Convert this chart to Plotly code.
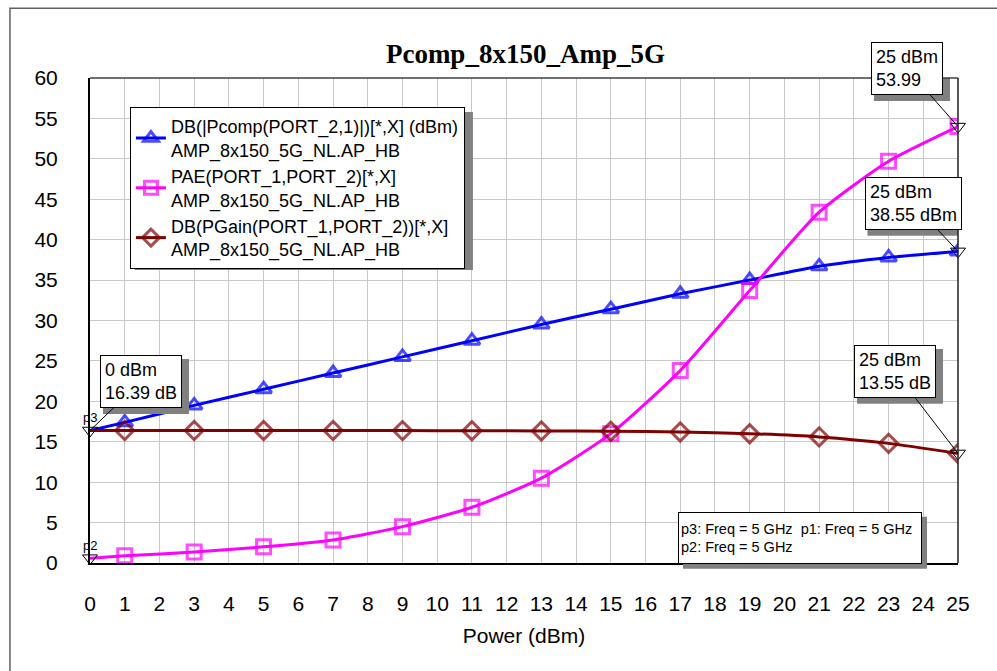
import plotly.graph_objects as go

# Swept input power (dBm); markers are drawn on the odd steps
power = [0, 1, 3, 5, 7, 9, 11, 13, 15, 17, 19, 21, 23, 25]

# Output power, DB(|Pcomp(PORT_2,1)|) in dBm
pcomp = [16.39, 17.4, 19.5, 21.5, 23.5, 25.5, 27.5, 29.5, 31.4, 33.3, 35.0, 36.7, 37.8, 38.55]
# Power added efficiency, PAE(PORT_1,PORT_2) in %
pae = [0.6, 0.9, 1.35, 2.0, 2.85, 4.5, 6.9, 10.5, 16.0, 23.8, 33.7, 43.4, 49.7, 53.99]
# Power gain, DB(PGain(PORT_1,PORT_2)) in dB
gain = [16.39, 16.39, 16.39, 16.39, 16.39, 16.38, 16.37, 16.34, 16.3, 16.2, 16.0, 15.6, 14.8, 13.55]

x_ticks = list(range(0, 26))
y_ticks = list(range(0, 61, 5))

FONT = "Liberation Sans, Arial, sans-serif"
SHADOW = "#808080"

series = [
    ("DB(|Pcomp(PORT_2,1)|)[*,X] (dBm)<br>AMP_8x150_5G_NL.AP_HB", pcomp, "#0000FF", "triangle-up-open"),
    ("PAE(PORT_1,PORT_2)[*,X]<br>AMP_8x150_5G_NL.AP_HB", pae, "#FF00FF", "square-open"),
    ("DB(PGain(PORT_1,PORT_2))[*,X]<br>AMP_8x150_5G_NL.AP_HB", gain, "#800000", "diamond-open"),
]

fig = go.Figure()
for i, (name, vals, color, sym) in enumerate(series):
    sizes = [0] + [14] * (len(power) - 1)
    fig.add_trace(go.Scatter(
        x=power, y=vals, name=name, mode="lines+markers",
        legendgroup=f"g{i}",
        line=dict(color=color, width=3, shape="spline", smoothing=0.6),
        marker=dict(symbol=sym, size=sizes, color=color, line=dict(color=color, width=3)),
    ))

# Marker points p3, p2 (at 0 dBm) and p1 readouts (at 25 dBm)
mk_x = [power[0], power[0], power[-1], power[-1], power[-1]]
mk_y = [gain[0], pae[0], pae[-1], pcomp[-1], gain[-1]]
fig.add_trace(go.Scatter(
    x=mk_x, y=mk_y, mode="markers", showlegend=False, cliponaxis=False,
    marker=dict(symbol="triangle-down-open", size=13, color="black", line=dict(color="black", width=1)),
))

annotations = []
shapes = []

READ_SIZE = 18


def text_width(s, size):
    # rough Arial advance widths, in em
    w = {"d": .556, "B": .667, "m": .833, " ": .278, ".": .278}
    return size * sum(w.get(c, .556) for c in s)


def readout(x, y, lines, ax, ay):
    text = "<br>".join(lines)
    w = max(text_width(s, READ_SIZE) for s in lines) + 14
    h = len(lines) * READ_SIZE * 1.3 + 8
    # drop shadow, offset down-right of the box
    shapes.append(dict(
        type="rect", xref="x", yref="y", xsizemode="pixel", ysizemode="pixel",
        xanchor=x, yanchor=y,
        x0=ax - w / 2 + 5, x1=ax + w / 2 + 5, y0=-(ay + h / 2) - 5, y1=-(ay - h / 2) - 5,
        fillcolor=SHADOW, line=dict(width=0), layer="above",
    ))
    annotations.append(dict(
        x=x, y=y, xref="x", yref="y", text=text, showarrow=True, arrowhead=0,
        arrowwidth=1, arrowcolor="black", ax=ax, ay=ay,
        bgcolor="white", bordercolor="black", borderwidth=1, borderpad=4,
        font=dict(family=FONT, size=READ_SIZE, color="black"), align="left",
    ))


readout(power[-1], pae[-1], [f"{power[-1]} dBm", f"{pae[-1]:.2f}"], -51, -58)
readout(power[-1], pcomp[-1], [f"{power[-1]} dBm", f"{pcomp[-1]:.2f} dBm"], -45, -48)
readout(power[-1], gain[-1], [f"{power[-1]} dBm", f"{gain[-1]:.2f} dB"], -63, -82)
readout(power[0], gain[0], [f"{power[0]} dBm", f"{gain[0]:.2f} dB"], 51, -49)

# Marker names
for label, yv in (("p3", gain[0]), ("p2", pae[0])):
    annotations.append(dict(
        x=power[0], y=yv, xref="x", yref="y", text=label, showarrow=False,
        yshift=13, font=dict(family=FONT, size=13, color="black"),
    ))

# Marker frequency note, with its shadow
note = "p3: Freq = 5 GHz&nbsp;&nbsp;p1: Freq = 5 GHz<br>p2: Freq = 5 GHz"
NOTE_X, NOTE_Y = 0.818, 0.052
shapes.append(dict(
    type="rect", xref="paper", yref="paper", xsizemode="pixel", ysizemode="pixel",
    xanchor=NOTE_X, yanchor=NOTE_Y, x0=-122 + 5, x1=122 + 5, y0=-26 - 5, y1=26 - 5,
    fillcolor=SHADOW, line=dict(width=0), layer="above",
))
annotations.append(dict(
    x=NOTE_X, y=NOTE_Y, xref="paper", yref="paper", text=note, showarrow=False,
    xanchor="center", yanchor="middle", width=238, height=46,
    bgcolor="white", bordercolor="black", borderwidth=1, borderpad=2, align="left",
    font=dict(family=FONT, size=14.5, color="black"),
))

# Legend placement and its shadow
LEG_X, LEG_Y = 0.046, 0.94
shapes.append(dict(
    type="rect", xref="paper", yref="paper", xsizemode="pixel", ysizemode="pixel",
    xanchor=LEG_X, yanchor=LEG_Y, x0=5, x1=343, y0=-163, y1=-5,
    fillcolor=SHADOW, line=dict(width=0), layer="above",
))

shapes += [
    # outer frame
    dict(type="rect", xref="paper", yref="paper", x0=-0.0922, x1=1.06, y0=-0.3, y1=1.144,
         line=dict(color="#606060", width=1.5), layer="below"),
    # top and right plot borders
    dict(type="line", xref="paper", yref="paper", x0=0, x1=1, y0=1, y1=1,
         line=dict(color="#404040", width=1.5), layer="above"),
    dict(type="line", xref="paper", yref="paper", x0=1, x1=1, y0=0, y1=1,
         line=dict(color="#202020", width=1.5), layer="above"),
]

fig.update_layout(
    width=997, height=671,
    margin=dict(l=90, r=39, t=78, b=108),
    paper_bgcolor="white", plot_bgcolor="white",
    title=dict(text="<b>Pcomp_8x150_Amp_5G</b>", x=0.527, xref="container", xanchor="center",
               y=0.92, yref="container", yanchor="middle",
               font=dict(family="Liberation Serif, Times New Roman, serif", size=27, color="black")),
    font=dict(family=FONT, color="black"),
    showlegend=True,
    legend=dict(x=LEG_X, y=LEG_Y, xanchor="left", yanchor="top", bgcolor="white",
                bordercolor="black", borderwidth=1, font=dict(family=FONT, size=18),
                tracegroupgap=0, itemwidth=30),
    xaxis=dict(range=[0, 25], tickmode="array", tickvals=x_ticks, ticktext=[str(v) for v in x_ticks],
               showgrid=True, gridcolor="#c8c8c8", gridwidth=1, zeroline=False,
               showline=True, linecolor="black", linewidth=2, mirror=False,
               ticks="", ticklabelstandoff=21, tickfont=dict(family=FONT, size=21),
               title=dict(text="Power (dBm)", font=dict(family=FONT, size=21), standoff=14),
               automargin=False),
    yaxis=dict(range=[0, 60], tickmode="array", tickvals=y_ticks, ticktext=[str(v) for v in y_ticks],
               showgrid=True, gridcolor="#c8c8c8", gridwidth=1, zeroline=False,
               showline=True, linecolor="black", linewidth=2, mirror=False,
               ticks="", ticklabelstandoff=26, tickfont=dict(family=FONT, size=21),
               automargin=False),
    annotations=annotations,
    shapes=shapes,
)

fig.write_html("out.html")
